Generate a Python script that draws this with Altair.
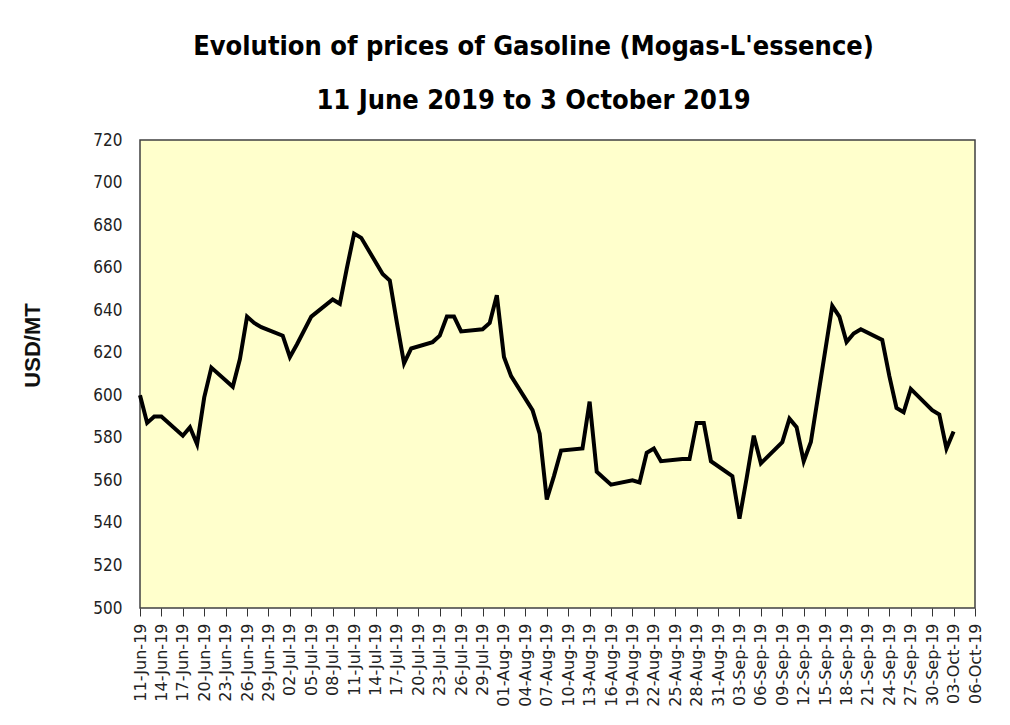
import altair as alt
import pandas as pd

dates = [
    "2019-06-11", "2019-06-12", "2019-06-13", "2019-06-14", "2019-06-17", "2019-06-18",
    "2019-06-19", "2019-06-20", "2019-06-21", "2019-06-24", "2019-06-25", "2019-06-26",
    "2019-06-27", "2019-06-28", "2019-07-01", "2019-07-02", "2019-07-03", "2019-07-05",
    "2019-07-08", "2019-07-09", "2019-07-10", "2019-07-11", "2019-07-12", "2019-07-15",
    "2019-07-16", "2019-07-17", "2019-07-18", "2019-07-19", "2019-07-22", "2019-07-23",
    "2019-07-24", "2019-07-25", "2019-07-26", "2019-07-29", "2019-07-30", "2019-07-31",
    "2019-08-01", "2019-08-02", "2019-08-05", "2019-08-06", "2019-08-07", "2019-08-08",
    "2019-08-09", "2019-08-12", "2019-08-13", "2019-08-14", "2019-08-15", "2019-08-16",
    "2019-08-19", "2019-08-20", "2019-08-21", "2019-08-22", "2019-08-23", "2019-08-26",
    "2019-08-27", "2019-08-28", "2019-08-29", "2019-08-30", "2019-09-02", "2019-09-03",
    "2019-09-04", "2019-09-05", "2019-09-06", "2019-09-09", "2019-09-10", "2019-09-11",
    "2019-09-12", "2019-09-13", "2019-09-16", "2019-09-17", "2019-09-18", "2019-09-19",
    "2019-09-20", "2019-09-23", "2019-09-24", "2019-09-25", "2019-09-26", "2019-09-27",
    "2019-09-30", "2019-10-01", "2019-10-02", "2019-10-03",
]
prices = [
    600, 587, 590, 590, 581, 585,
    577, 599, 613, 604, 617, 637,
    634, 632, 628, 618, 624, 637,
    645, 643, 660, 676, 674, 657,
    654, 634, 615, 622, 625, 628,
    637, 637, 630, 631, 634, 647,
    618, 609, 593, 582, 551, 562,
    574, 575, 597, 564, 561, 558,
    560, 559, 573, 575, 569, 570,
    570, 587, 587, 569, 562, 542,
    561, 581, 568, 578, 589, 585,
    569, 578, 642, 637, 625, 629,
    631, 626, 609, 594, 592, 603,
    593, 591, 575, 583,
]

tick_dates = [
    "2019-06-11", "2019-06-14", "2019-06-17", "2019-06-20", "2019-06-23", "2019-06-26",
    "2019-06-29", "2019-07-02", "2019-07-05", "2019-07-08", "2019-07-11", "2019-07-14",
    "2019-07-17", "2019-07-20", "2019-07-23", "2019-07-26", "2019-07-29", "2019-08-01",
    "2019-08-04", "2019-08-07", "2019-08-10", "2019-08-13", "2019-08-16", "2019-08-19",
    "2019-08-22", "2019-08-25", "2019-08-28", "2019-08-31", "2019-09-03", "2019-09-06",
    "2019-09-09", "2019-09-12", "2019-09-15", "2019-09-18", "2019-09-21", "2019-09-24",
    "2019-09-27", "2019-09-30", "2019-10-03", "2019-10-06",
]
y_ticks = [500, 520, 540, 560, 580, 600, 620, 640, 660, 680, 700, 720]

title_lines = ["Evolution of prices of Gasoline (Mogas-L'essence)", "11 June 2019 to 3 October 2019"]

df = pd.DataFrame({"date": dates, "price": prices})


def ms(d):
    return int(pd.Timestamp(d, tz="UTC").timestamp() * 1000)


tick_ms = [ms(d) for d in tick_dates]

NARROW = "DejaVu Sans Condensed, Liberation Sans Narrow, sans-serif"

chart = (
    alt.Chart(df)
    .mark_line(color="black", strokeWidth=4, strokeJoin="miter")
    .encode(
        x=alt.X(
            "date:T",
            scale=alt.Scale(type="utc", domain=[tick_ms[0], tick_ms[-1]]),
            axis=alt.Axis(
                values=tick_ms,
                labelExpr="utcFormat(datum.value, '%d-%b-%y')",
                labelAngle=270,
                labelAlign="right",
                labelBaseline="middle",
                labelFont="DejaVu Sans",
                labelFontSize=16,
                labelColor="#222222",
                labelPadding=7,
                labelOverlap=False,
                labelFlush=False,
                tickSize=8,
                tickColor="#333333",
                domain=False,
                grid=False,
                title=None,
            ),
        ),
        y=alt.Y(
            "price:Q",
            scale=alt.Scale(domain=[500, 720], nice=False, zero=False),
            axis=alt.Axis(
                values=y_ticks,
                labelFont=NARROW,
                labelFontSize=17,
                labelColor="#222222",
                labelPadding=18,
                ticks=False,
                domain=False,
                grid=False,
                title="USD/MT",
                titleFont="Liberation Sans",
                titleFontSize=22,
                titleFontWeight="bold",
                titleColor="#111111",
                titleAngle=270,
                titleAlign="center",
                titleBaseline="middle",
                titleX=-108,
                titleY=205,
            ),
        ),
    )
    .properties(
        width=835,
        height=468,
        autosize="none",
        padding={"left": 132, "top": 132, "right": 20, "bottom": 100},
        title=alt.TitleParams(
            text=title_lines,
            font=NARROW,
            fontSize=27,
            fontWeight="bold",
            color="#000000",
            lineHeight=54,
            anchor="middle",
            dx=-24,
            offset=16,
            baseline="top",
        ),
    )
    .configure(background="white")
    .configure_view(fill="#FFFFCC", stroke="#404040", strokeWidth=1.5)
)

chart.save("out.html", embed_options={"renderer": "svg", "actions": False})
